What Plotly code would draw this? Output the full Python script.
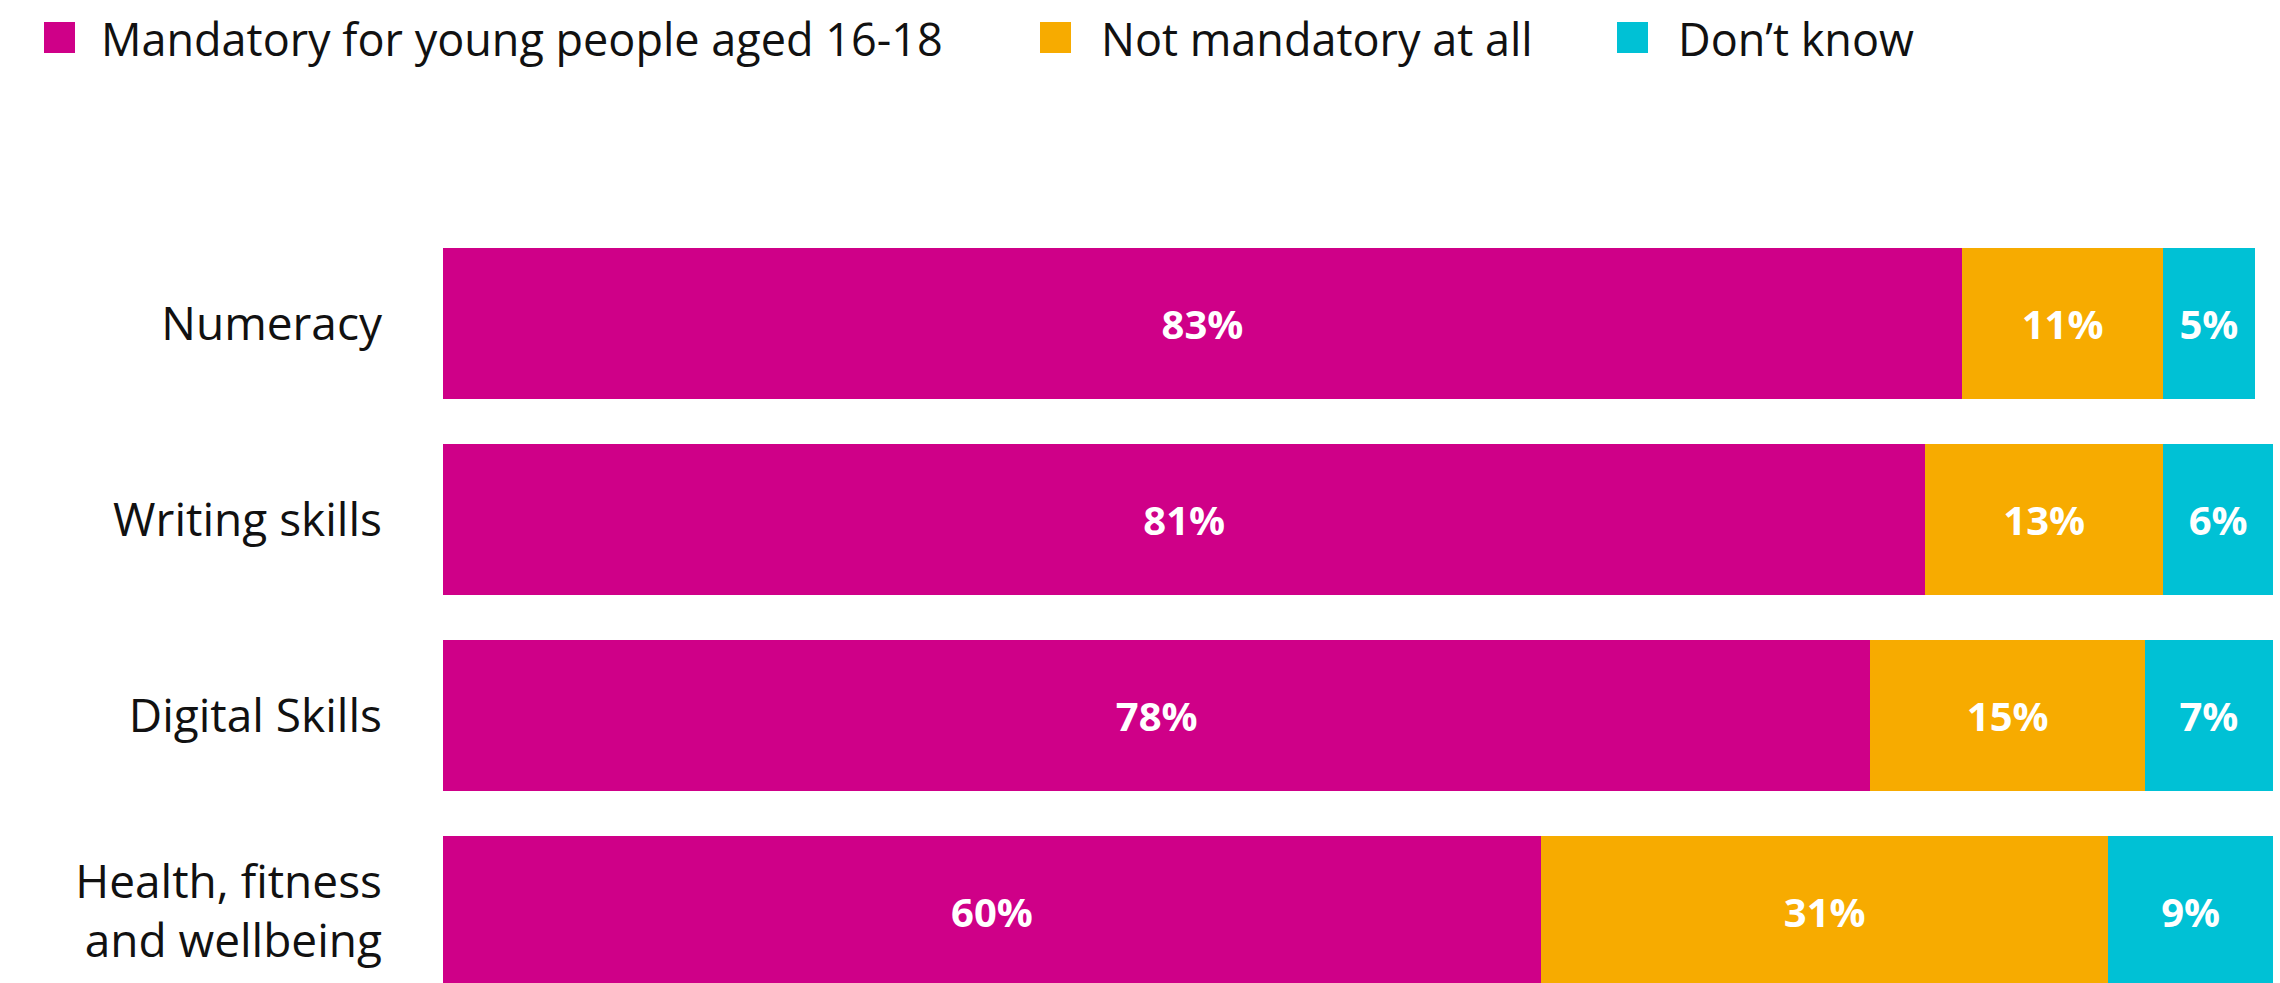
import plotly.graph_objects as go

# Survey categories (top to bottom) and response shares in percent
categories = ["Numeracy", "Writing skills", "Digital Skills", "Health, fitness<br>and wellbeing"]
series_names = ["Mandatory for young people aged 16-18", "Not mandatory at all", "Don’t know"]
mandatory = [83, 81, 78, 60]
not_mandatory = [11, 13, 15, 31]
dont_know = [5, 6, 7, 9]

colors = ["#CF0088", "#F7AB00", "#00C1D5"]

W, H = 2280, 983
M_L, M_R, M_T, M_B = 443, 7, 150, 0
PW, PH = W - M_L - M_R, H - M_T - M_B

FONT = "Open Sans"

fig = go.Figure()
for name, vals, col in zip(series_names, [mandatory, not_mandatory, dont_know], colors):
    fig.add_trace(go.Bar(
        y=categories, x=vals, orientation="h", name=name,
        marker=dict(color=col, line=dict(width=0)),
        text=[f"{v}%" for v in vals], textposition="inside",
        insidetextanchor="middle",
        textfont=dict(family=FONT, size=40, color="white", weight="bold"),
        showlegend=False, hoverinfo="skip",
    ))


def px_x(x):
    return (x - M_L) / PW


def px_y(y):
    return (H - M_B - y) / PH


# Legend row drawn as squares with labels along the top
legend_items = [(44, 99), (1040, 1099), (1617, 1676)]
for (sq_x, tx_x), name, col in zip(legend_items, series_names, colors):
    fig.add_shape(type="rect", xref="paper", yref="paper",
                  x0=px_x(sq_x), x1=px_x(sq_x + 31), y0=px_y(53), y1=px_y(22),
                  fillcolor=col, line=dict(width=0))
    fig.add_annotation(xref="paper", yref="paper", x=px_x(tx_x), y=px_y(38),
                       text=name, showarrow=False, xanchor="left", yanchor="middle",
                       font=dict(family=FONT, size=45, color="#111111"))

# category centres are 196 px apart; the last bar runs off the bottom edge
fig.update_layout(
    width=W, height=H,
    margin=dict(l=M_L, r=M_R, t=M_T, b=M_B, pad=0),
    barmode="stack", bargap=0.23,
    plot_bgcolor="white", paper_bgcolor="white",
    xaxis=dict(range=[0, 100], visible=False, fixedrange=True),
    yaxis=dict(categoryorder="array", categoryarray=categories,
               range=[3.365, -0.885], showgrid=False, zeroline=False,
               showline=False, ticks="", ticklabelstandoff=60,
               tickfont=dict(family=FONT, size=46, color="#111111")),
    uniformtext=dict(minsize=30, mode="show"),
)

fig.write_html("out.html")
